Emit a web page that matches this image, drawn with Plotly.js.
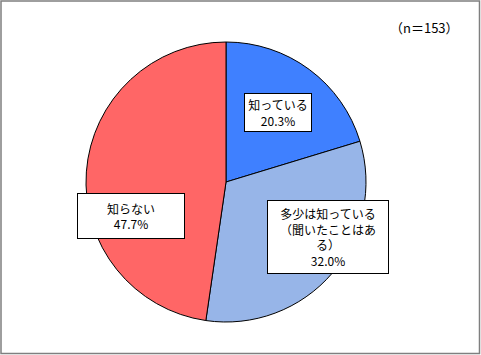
<!DOCTYPE html>
<html>
<head>
<meta charset="utf-8">
<script src="https://cdn.plot.ly/plotly-3.0.1.min.js"></script>
<style>
  html, body { margin: 0; padding: 0; background: #fff; }
  #chart { width: 481px; height: 355px; }
</style>
</head>
<body>
<div id="chart"></div>
<script>
// Data
const categories = ["知っている", "多少は知っている（聞いたことはある）", "知らない"];
const displayLabels = ["知っている", "多少は知っている<br>（聞いたことはあ<br>る）", "知らない"];
const values = [20.3, 32.0, 47.7];
const sampleNote = "（n＝153）";

// Styles
const colors = ["#3F80FF", "#97B5E8", "#FF6666"];
const W = 481, H = 355;
const boxes = [
  {cx: 278, cy: 112.5, w: 64, h: 35},
  {cx: 328, cy: 237, w: 118, h: 70},
  {cx: 131, cy: 216, w: 104, h: 42}
];
const font = {family: "'Noto Sans CJK JP', 'Noto Sans', sans-serif", size: 12, color: "#000"};

const annotations = categories.map((c, i) => ({
  xref: "paper", yref: "paper",
  x: boxes[i].cx / W, y: 1 - boxes[i].cy / H,
  xanchor: "center", yanchor: "middle",
  text: displayLabels[i] + "<br>" + values[i].toFixed(1) + "%",
  showarrow: false,
  bgcolor: "#ffffff", bordercolor: "#000000", borderwidth: 1, borderpad: 1,
  width: boxes[i].w, height: boxes[i].h,
  align: "center", valign: "middle",
  font: font
}));
annotations.push({
  xref: "paper", yref: "paper",
  x: 424 / W, y: 1 - 27 / H,
  xanchor: "center", yanchor: "middle",
  text: sampleNote, showarrow: false,
  font: {family: "'Noto Sans CJK JP', sans-serif", size: 13, color: "#000"}
});

const trace = {
  type: "pie",
  labels: categories,
  values: values,
  sort: false,
  direction: "clockwise",
  rotation: 0,
  textinfo: "none",
  hoverinfo: "label+percent",
  marker: {colors: colors, line: {color: "#000", width: 1}},
  domain: {x: [86 / W, 366 / W], y: [33 / H, 313 / H]},
  showlegend: false
};

const layout = {
  width: W, height: H,
  margin: {l: 0, r: 0, t: 0, b: 0},
  paper_bgcolor: "#fff",
  showlegend: false,
  annotations: annotations,
  shapes: [{
    type: "rect", xref: "paper", yref: "paper",
    x0: 1 / W, x1: 1 - 1.5 / W, y0: 1.5 / H, y1: 1 - 1 / H,
    line: {color: "#7f7f7f", width: 1.5}
  }]
};

Plotly.newPlot("chart", [trace], layout, {staticPlot: true, displayModeBar: false});
</script>
</body>
</html>
